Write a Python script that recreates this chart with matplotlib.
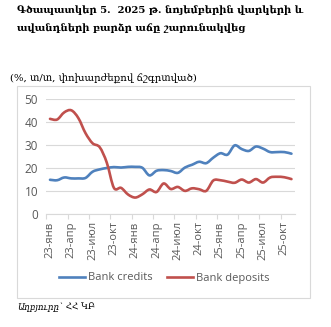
import matplotlib
matplotlib.use("Agg")
import matplotlib.pyplot as plt
from matplotlib.path import Path
from matplotlib.patches import PathPatch, Rectangle
from matplotlib.lines import Line2D
import numpy as np

# Monthly year-on-year growth, Jan 2023 - Nov 2025 (%)
months = [f"{y}-{m}" for y in ("23", "24", "25")
          for m in ("янв", "фев", "мар", "апр", "май", "июн",
                    "июл", "авг", "сен", "окт", "ноя", "дек")][:35]
bank_credits = [15.0, 14.8, 16.0, 15.6, 15.6, 15.8, 18.5, 19.5, 20.1, 20.5,
                20.3, 20.6, 20.6, 20.2, 16.9, 18.9, 19.2, 18.8, 18.0, 20.3,
                21.5, 22.8, 22.2, 24.6, 26.5, 25.9, 29.9, 28.3, 27.5, 29.4,
                28.5, 27.0, 27.0, 27.0, 26.3]
bank_deposits = [41.4, 41.1, 44.2, 45.1, 41.7, 35.2, 30.8, 29.1, 22.4, 11.5,
                 11.5, 8.6, 7.3, 8.7, 10.8, 9.7, 13.4, 11.0, 11.9, 10.2,
                 11.3, 10.9, 10.2, 14.7, 14.8, 14.2, 13.7, 15.1, 13.8, 15.3,
                 13.8, 16.0, 16.3, 16.1, 15.3]
series_names = ["Bank credits", "Bank deposits"]
series_colors = ["#4F81BD", "#C0504D"]

title_lines = ["Գծապատկեր 5.  2025 թ. նոյեմբերին վարկերի և",
               "ավանդների բարձր աճը շարունակվեց"]
subtitle = "(%, տ/տ, փոխարժեքով ճշգրտված)"
source_label = "Աղբյուրը`"
source_value = " ՀՀ ԿԲ"

W, H = 331, 327
fig = plt.figure(figsize=(W / 100, H / 100), dpi=100)
fig.patch.set_facecolor("white")


def fx(px):
    return px / W


def fy(py):
    return 1 - py / H


# Chart frame
fig.patches.append(Rectangle((fx(17), fy(298)), fx(310) - fx(17), fy(85.7) - fy(298),
                             transform=fig.transFigure, fill=False,
                             edgecolor="#D9D9D9", linewidth=0.8))

ax = fig.add_axes([fx(46.45), fy(214.4), fx(295) - fx(46.45), fy(99) - fy(214.4)])


def smooth_path(xs, ys):
    """Cubic Bezier curve through the points (Catmull-Rom style)."""
    pts = np.column_stack([xs, ys]).astype(float)
    n = len(pts)
    verts = [pts[0]]
    codes = [Path.MOVETO]
    for i in range(n - 1):
        p0 = pts[i - 1] if i > 0 else pts[i]
        p1 = pts[i]
        p2 = pts[i + 1]
        p3 = pts[i + 2] if i + 2 < n else pts[i + 1]
        c1 = p1 + (p2 - p0) / 6
        c2 = p2 - (p3 - p1) / 6
        verts += [c1, c2, p2]
        codes += [Path.CURVE4] * 3
    return Path(verts, codes)


x = np.arange(len(months))
for vals, color in zip([bank_credits, bank_deposits], series_colors):
    ax.add_patch(PathPatch(smooth_path(x, vals), facecolor="none",
                           edgecolor=color, linewidth=1.9,
                           capstyle="round", joinstyle="round"))

ax.set_xlim(-0.5, len(months) - 0.5)
ax.set_ylim(0, 50)
ax.set_yticks(range(0, 51, 10))
ax.yaxis.grid(True, color="#D9D9D9", linewidth=0.8)
ax.set_axisbelow(True)
for side in ("left", "right", "top"):
    ax.spines[side].set_visible(False)
ax.spines["bottom"].set_color("#D9D9D9")
ax.spines["bottom"].set_linewidth(0.8)

ax.set_xticks(np.arange(-0.5, len(months), 3))
ax.set_xticklabels([])
ax.set_xticks(x[::3], minor=True)
ax.set_xticklabels([months[i] for i in x[::3]], minor=True, rotation=90,
                   fontsize=8, color="#595959", family="Open Sans")
ax.tick_params(axis="x", which="major", length=3.5, color="#D9D9D9", width=0.8)
ax.tick_params(axis="x", which="minor", length=0, pad=5)
ax.tick_params(axis="y", length=0, labelsize=8.5, labelcolor="#595959", pad=6)
for lab in ax.get_yticklabels():
    lab.set_family("Open Sans")

handles = [Line2D([], [], color=c, linewidth=1.9) for c in series_colors]
fig.legend(handles, series_names, loc="center", bbox_to_anchor=(fx(164.5), fy(278)),
           ncol=2, frameon=False, handlelength=2.35, handletextpad=0.25,
           columnspacing=1.3, prop={"family": "Open Sans", "size": 8},
           labelcolor="#595959")

fig.text(fx(17), fy(10), title_lines[0], fontsize=7.2, fontweight="bold",
         family="DejaVu Serif", va="center", ha="left")
fig.text(fx(17), fy(27.7), title_lines[1], fontsize=7.2, fontweight="bold",
         family="DejaVu Serif", va="center", ha="left")
fig.text(fx(10), fy(79), subtitle, fontsize=7.3, family="DejaVu Serif",
         va="center", ha="left")
t = fig.text(fx(17), fy(307), source_label, fontsize=6.3, family="DejaVu Serif",
             style="italic", va="center", ha="left")
fig.canvas.draw()
bb = t.get_window_extent()
fig.text(bb.x1 / W, fy(307), source_value, fontsize=6.3, family="DejaVu Serif",
         va="center", ha="left")

fig.savefig("out.png", dpi=100)
